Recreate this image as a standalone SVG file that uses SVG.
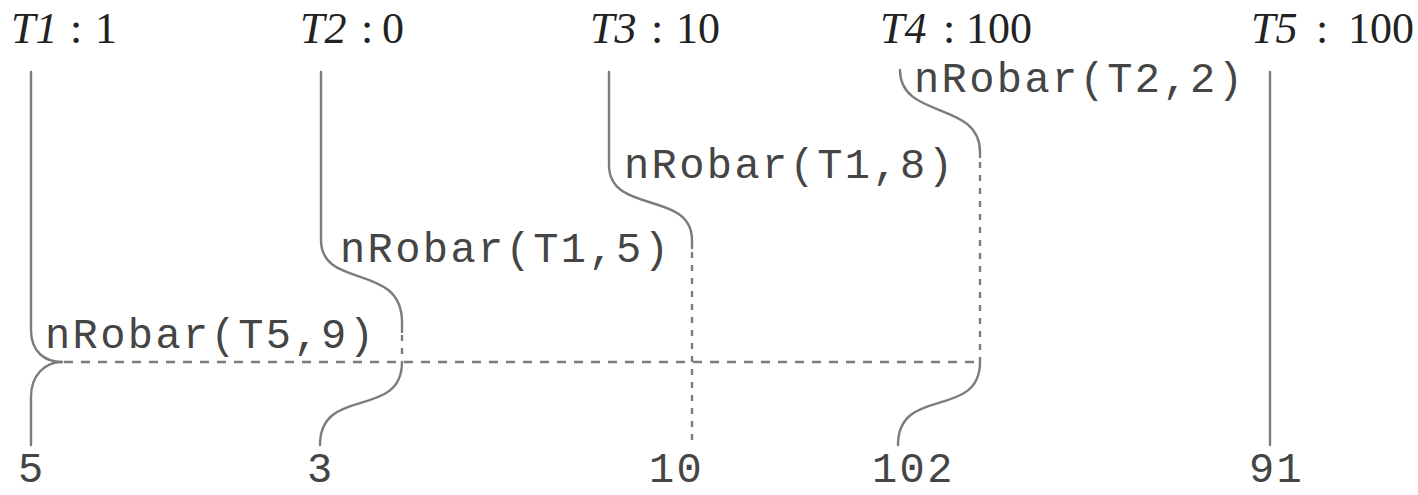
<svg xmlns="http://www.w3.org/2000/svg" width="1418" height="495" viewBox="0 0 1418 495">
  <style>
    .bg { fill: #ffffff; }
    .solid { fill: none; stroke: #7c7c7c; stroke-width: 2.4; stroke-linecap: round; }
    .wait { fill: none; stroke: #7c7c7c; stroke-width: 2.4; stroke-dasharray: 6 7; }
    .barrier { fill: none; stroke: #7c7c7c; stroke-width: 2.4; stroke-dasharray: 9 8; }
    .head { font-family: "Liberation Serif", "Times New Roman", serif; font-size: 44px; fill: #222222; }
    .head .it { font-style: italic; }
    .mono { font-family: "Liberation Mono", "Courier New", monospace; font-size: 42px; letter-spacing: 2.4px; fill: #454545; }
  </style>
  <rect class="bg" x="0" y="0" width="1418" height="495"/>

  <!-- thread headers -->
  <g id="t1">
    <text class="head"><tspan class="it" x="11" y="43">T1</tspan><tspan x="70" y="43">:</tspan><tspan x="95" y="43">1</tspan></text>
  </g>
  <g id="t2">
    <text class="head"><tspan class="it" x="300" y="43">T2</tspan><tspan x="361" y="43">:</tspan><tspan x="382" y="43">0</tspan></text>
  </g>
  <g id="t3">
    <text class="head"><tspan class="it" x="590" y="43">T3</tspan><tspan x="651" y="43">:</tspan><tspan x="676" y="43">10</tspan></text>
  </g>
  <g id="t4">
    <text class="head"><tspan class="it" x="880" y="43">T4</tspan><tspan x="943" y="43">:</tspan><tspan x="966" y="43">100</tspan></text>
  </g>
  <g id="t5">
    <text class="head"><tspan class="it" x="1251" y="43">T5</tspan><tspan x="1316" y="43">:</tspan><tspan x="1348" y="43">100</tspan></text>
  </g>

  <!-- timelines: solid while running, dashed while waiting -->
  <g id="connectors">
    <!-- T1 -->
    <path class="solid" d="M31,72 V330 C31,352 45,362 62,362"/>
    <path class="solid" d="M62,362 C45,362 31,375 31,397 V445"/>
    <!-- T2 -->
    <path class="solid" d="M321,72 V240 C321,290 402,262 402,322 V332"/>
    <path class="wait" d="M402,335 V362"/>
    <path class="solid" d="M402,362 C402,420 320,385 320,445"/>
    <!-- T3 -->
    <path class="solid" d="M609,72 V165 C609,215 692,190 692,240 V248"/>
    <path class="wait" d="M692,252 V445"/>
    <!-- T4 -->
    <path class="solid" d="M900,70 C900,120 980,100 980,152 V157"/>
    <path class="wait" d="M980,162 V362"/>
    <path class="solid" d="M980,362 C980,420 898,385 898,445"/>
    <!-- T5 -->
    <path class="solid" d="M1270,72 V445"/>
    <!-- barrier -->
    <path class="barrier" d="M64,362 H980"/>
  </g>

  <!-- operation labels -->
  <g id="op-t4"><text class="mono" x="914" y="92">nRobar(T2,2)</text></g>
  <g id="op-t3"><text class="mono" x="624" y="178">nRobar(T1,8)</text></g>
  <g id="op-t2"><text class="mono" x="340" y="262">nRobar(T1,5)</text></g>
  <g id="op-t1"><text class="mono" x="45" y="348">nRobar(T5,9)</text></g>

  <!-- final values -->
  <g id="res-t1"><text class="mono" x="18" y="482">5</text></g>
  <g id="res-t2"><text class="mono" x="307" y="482">3</text></g>
  <g id="res-t3"><text class="mono" x="649" y="482">10</text></g>
  <g id="res-t4"><text class="mono" x="872" y="482">102</text></g>
  <g id="res-t5"><text class="mono" x="1249" y="482">91</text></g>
</svg>
